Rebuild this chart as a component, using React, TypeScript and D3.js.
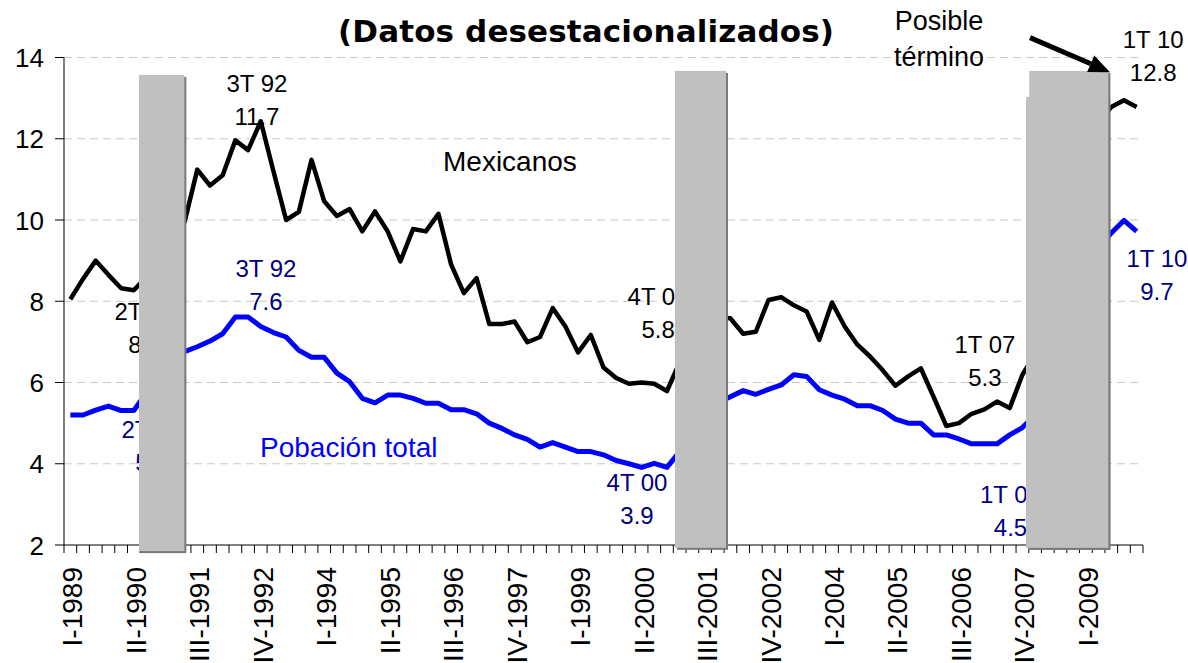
import React from "react";
import * as d3 from "d3";

// Quarterly unemployment rate, I-1989 .. I-2010 (seasonally adjusted)
const mexicanos = [
  8.05, 8.55, 9.0, 8.65, 8.32, 8.27, 8.6, 9.2, 9.7, 9.95,
  11.24, 10.85, 11.1, 11.96, 11.72, 12.43, 11.2, 10.0, 10.2, 11.48,
  10.46, 10.1, 10.27, 9.72, 10.21, 9.72, 8.98, 9.78, 9.72, 10.15,
  8.9, 8.2, 8.57, 7.44, 7.44, 7.5, 6.99, 7.12, 7.83, 7.38,
  6.74, 7.17, 6.37, 6.11, 5.97, 6.0, 5.97, 5.79, 6.5, 7.0,
  7.4, 7.6, 7.58, 7.2, 7.25, 8.03, 8.1, 7.9, 7.75, 7.05,
  7.97, 7.38, 6.93, 6.64, 6.3, 5.92, 6.15, 6.35, 5.65, 4.93,
  5.0, 5.23, 5.34, 5.53, 5.37, 6.19, 6.7, 7.6, 9.0, 10.8,
  11.9, 12.4, 12.78, 12.95, 12.78,
];

const poblacionTotal = [
  5.2, 5.2, 5.32, 5.42, 5.31, 5.31, 5.75, 6.1, 6.45, 6.76,
  6.88, 7.02, 7.2, 7.61, 7.61, 7.38, 7.23, 7.12, 6.79, 6.62,
  6.62, 6.23, 6.02, 5.61, 5.5, 5.69, 5.69, 5.61, 5.49, 5.49,
  5.33, 5.33, 5.23, 5.0, 4.87, 4.71, 4.6, 4.41, 4.52, 4.41,
  4.3, 4.3, 4.22, 4.08, 4.0, 3.91, 4.01, 3.91, 4.3, 4.8,
  5.2, 5.5, 5.65, 5.8, 5.71, 5.83, 5.94, 6.19, 6.15, 5.82,
  5.69, 5.59, 5.43, 5.43, 5.31, 5.1, 5.0, 5.0, 4.71, 4.71,
  4.61, 4.49, 4.49, 4.49, 4.71, 4.89, 5.2, 5.8, 6.6, 7.6,
  8.6, 9.3, 9.68, 9.99, 9.72,
];

// one label every 5 quarters
const tickLabels = [
  "I-1989", "II-1990", "III-1991", "IV-1992", "I-1994", "II-1995",
  "III-1996", "IV-1997", "I-1999", "II-2000", "III-2001", "IV-2002",
  "I-2004", "II-2005", "III-2006", "IV-2007", "I-2009",
];
const labelStep = 5;

const yTicks = [2, 4, 6, 8, 10, 12, 14];
const gridTicks = [4, 6, 8, 10, 12, 14];

// recession shading, in quarter units and chart values
const recesiones = [
  { start: 5.91, end: 9.48, top: 13.57, bottom: 1.85 },
  { start: 48.13, end: 52.15, top: 13.67, bottom: 1.93 },
  { start: 75.78, end: 82.27, top: 13.03, bottom: 1.93 },
  { start: 76.04, end: 82.27, top: 13.67, bottom: 1.93 },
];

const BLACK = "#000000";
const NAVY = "#000080";
const BLUE = "#0000ff";

// point labels: first line position (quarter units, value), second line below
const anotaciones = [
  { text: ["3T 92", "11.7"], u: 15.2, v: 13.14, color: BLACK },
  { text: ["3T 92", "7.6"], u: 15.91, v: 8.6, color: NAVY },
  { text: ["2T 90", "8.2"], u: 6.38, v: 7.54, color: BLACK },
  { text: ["2T 90", "5.3"], u: 6.93, v: 4.63, color: NAVY },
  { text: ["4T 00", "5.8"], u: 46.8, v: 7.91, color: BLACK },
  { text: ["4T 00", "3.9"], u: 45.14, v: 3.34, color: NAVY },
  { text: ["1T 07", "5.3"], u: 72.55, v: 6.73, color: BLACK },
  { text: ["1T 07", "4.5"], u: 74.56, v: 3.04, color: NAVY },
  { text: ["1T 10", "12.8"], u: 85.8, v: 14.23, color: BLACK },
  { text: ["1T 10", "9.7"], u: 86.1, v: 8.85, color: NAVY },
];

const FONT = "'Liberation Sans', Arial, sans-serif";

export default function App() {
  const width = 1188;
  const height = 663;
  const n = mexicanos.length;

  const x = d3.scaleLinear().domain([0, n]).range([64, 1143]);
  const y = d3.scaleLinear().domain([2, 14]).range([545, 57.5]);
  const cx = (i: number) => x(i + 0.5);

  const line = d3
    .line<number>()
    .x((_, i) => cx(i))
    .y((d) => y(d));

  // arrow "Posible término"
  const a0 = [x(76.1), y(14.49)];
  const a1 = [x(82.4), y(13.64)];
  const ang = Math.atan2(a1[1] - a0[1], a1[0] - a0[0]);
  const headLen = 21;
  const headW = 9;
  const base = [a1[0] - headLen * Math.cos(ang), a1[1] - headLen * Math.sin(ang)];
  const head = [
    a1,
    [base[0] + headW * Math.sin(ang), base[1] - headW * Math.cos(ang)],
    [base[0] - headW * Math.sin(ang), base[1] + headW * Math.cos(ang)],
  ]
    .map((p) => p.join(","))
    .join(" ");

  return (
    <svg
      width={width}
      height={height}
      style={{ position: "absolute", left: 0, top: 0, background: "#fff" }}
    >
      {/* gridlines */}
      {gridTicks.map((t) => (
        <line
          key={"g" + t}
          x1={x(0)}
          x2={x(n)}
          y1={y(t)}
          y2={y(t)}
          stroke="#c8c8c8"
          strokeWidth={1}
          strokeDasharray="8,5"
        />
      ))}

      {/* y axis */}
      <line x1={x(0)} x2={x(0)} y1={y(2)} y2={y(14)} stroke="#000" />
      {yTicks.map((t) => (
        <g key={"y" + t}>
          <line x1={x(0) - 9} x2={x(0)} y1={y(t)} y2={y(t)} stroke="#000" />
          <text
            x={44}
            y={y(t) + 9.5}
            textAnchor="end"
            fontFamily={FONT}
            fontSize={26}
            fill="#000"
          >
            {t}
          </text>
        </g>
      ))}

      {/* x axis */}
      <line x1={x(0)} x2={x(n)} y1={y(2)} y2={y(2)} stroke="#000" />
      {d3.range(n + 1).map((i) => (
        <line key={"t" + i} x1={x(i)} x2={x(i)} y1={y(2)} y2={y(2) + 8} stroke="#000" />
      ))}
      {tickLabels.map((lab, k) => (
        <text
          key={lab}
          transform={`translate(${cx(k * labelStep) + 12},${y(2) + 22}) rotate(-90)`}
          textAnchor="end"
          fontFamily={FONT}
          fontSize={28}
          fill="#000"
        >
          {lab}
        </text>
      ))}

      {/* series */}
      <path d={line(mexicanos) || ""} fill="none" stroke={BLACK} strokeWidth={4.5} strokeLinejoin="round" />
      <path d={line(poblacionTotal) || ""} fill="none" stroke={BLUE} strokeWidth={5} strokeLinejoin="round" />

      {/* point labels */}
      {anotaciones.map((a, k) => (
        <text
          key={"a" + k}
          x={x(a.u)}
          y={y(a.v)}
          textAnchor="middle"
          fontFamily={FONT}
          fontSize={24}
          fill={a.color}
        >
          <tspan x={x(a.u)}>{a.text[0]}</tspan>
          <tspan x={x(a.u)} dy={33}>
            {a.text[1]}
          </tspan>
        </text>
      ))}

      {/* series names */}
      <text x={443} y={171} fontFamily={FONT} fontSize={28} fill={BLACK}>
        Mexicanos
      </text>
      <text x={260} y={457} fontFamily={FONT} fontSize={28} fill={BLUE}>
        Pobación total
      </text>

      {/* recession bands */}
      {recesiones.map((r, k) => (
        <g key={"r" + k}>
          <rect
            x={x(r.start) + 2}
            y={y(r.top) + 2}
            width={x(r.end) - x(r.start)}
            height={y(r.bottom) - y(r.top)}
            fill="#7a7a7a"
          />
          <rect
            x={x(r.start)}
            y={y(r.top)}
            width={x(r.end) - x(r.start)}
            height={y(r.bottom) - y(r.top)}
            fill="#c0c0c0"
          />
        </g>
      ))}

      {/* arrow */}
      <line x1={a0[0]} y1={a0[1]} x2={base[0]} y2={base[1]} stroke="#000" strokeWidth={5} />
      <polygon points={head} fill="#000" />
      <text textAnchor="middle" fontFamily={FONT} fontSize={27} fill="#000">
        <tspan x={939} y={30}>
          Posible
        </tspan>
        <tspan x={939} y={66}>
          término
        </tspan>
      </text>

      {/* title */}
      <text
        x={586}
        y={42}
        textAnchor="middle"
        fontFamily="'DejaVu Sans', Verdana, sans-serif"
        fontWeight="bold"
        fontSize={31}
        textLength={496}
        lengthAdjust="spacing"
        fill="#000"
      >
        (Datos desestacionalizados)
      </text>
    </svg>
  );
}
